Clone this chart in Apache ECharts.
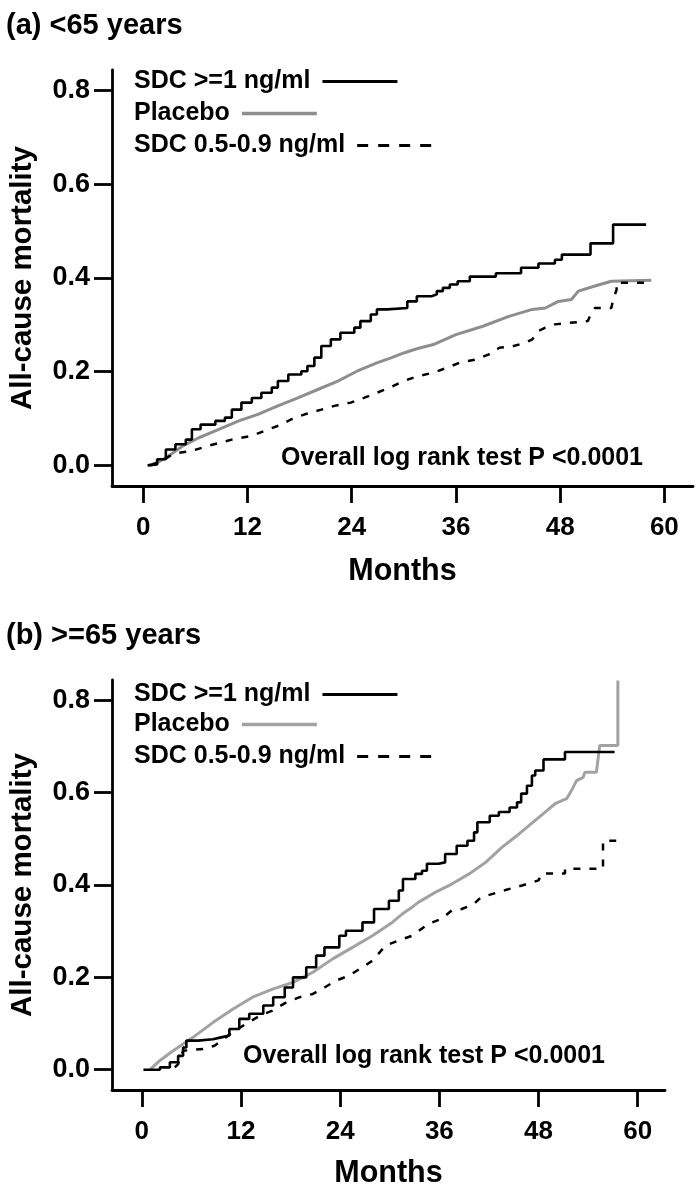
<!DOCTYPE html>
<html>
<head>
<meta charset="utf-8">
<script src="https://cdn.jsdelivr.net/npm/echarts@6/dist/echarts.min.js"></script>
<style>html,body{margin:0;padding:0;background:#fff}#c{width:700px;height:1194px}</style>
</head>
<body>
<div id="c"></div>
<script>
const seriesNames = ['SDC >=1 ng/ml', 'Placebo', 'SDC 0.5-0.9 ng/ml'];
const panelTitles = ['(a) <65 years', '(b) >=65 years'];
const testLabel = 'Overall log rank test P <0.0001';
const xAxisName = 'Months';
const yAxisName = 'All-cause mortality';
const xTickValues = [0, 12, 24, 36, 48, 60];
const yTickValues = [0, 0.2, 0.4, 0.6, 0.8];

// Panel (a) <65 years
const aHighMonths = [0.5, 0.7, 1.6, 2.6, 3.7, 4.9, 5.6, 6.6, 8.3, 9.4, 10.2, 11.3, 12.5, 13.6, 14.8, 15.5, 16.7, 18.2, 18.9, 19.7, 20.5, 21.6, 22.7, 24.3, 25.0, 26.2, 26.9, 28.1, 30.4, 31.5, 33.2, 33.8, 34.5, 35.3, 36.2, 37.6, 40.6, 43.5, 45.5, 47.4, 48.2, 51.5, 54.1, 57.9];
const aHighValues = [0, 0.002, 0.013, 0.034, 0.045, 0.055, 0.077, 0.087, 0.095, 0.102, 0.119, 0.134, 0.144, 0.155, 0.166, 0.18, 0.194, 0.201, 0.212, 0.23, 0.255, 0.269, 0.283, 0.294, 0.308, 0.322, 0.333, 0.336, 0.35, 0.361, 0.365, 0.372, 0.379, 0.386, 0.393, 0.403, 0.41, 0.422, 0.431, 0.439, 0.45, 0.474, 0.514, 0.514];
const aPlaceboMonths = [0.6, 1.6, 2.6, 4.5, 6.4, 8.7, 11.0, 13.2, 15.5, 17.8, 20.1, 22.4, 24.6, 26.9, 28.6, 30.0, 31.5, 33.4, 36.0, 39.1, 42.1, 44.8, 46.3, 47.8, 49.3, 50.1, 52.0, 53.9, 58.5];
const aPlaceboValues = [0, 0.006, 0.016, 0.041, 0.059, 0.077, 0.095, 0.109, 0.127, 0.144, 0.162, 0.18, 0.201, 0.219, 0.23, 0.24, 0.249, 0.258, 0.279, 0.297, 0.318, 0.333, 0.336, 0.35, 0.354, 0.372, 0.383, 0.393, 0.395];
const aLowMonths = [0.8, 2.0, 3.5, 5.6, 7.5, 10.2, 12.5, 14.4, 15.9, 17.0, 18.6, 20.5, 22.0, 23.9, 25.4, 26.9, 28.4, 30.0, 31.5, 33.4, 34.9, 36.4, 38.3, 39.8, 41.0, 42.5, 44.0, 44.8, 45.5, 46.3, 47.4, 49.0, 51.2, 51.6, 52.0, 53.9, 54.1, 54.5, 54.5, 57.7];
const aLowValues = [0, 0.008, 0.025, 0.031, 0.042, 0.055, 0.063, 0.077, 0.087, 0.098, 0.109, 0.119, 0.127, 0.134, 0.144, 0.155, 0.166, 0.18, 0.19, 0.198, 0.208, 0.219, 0.226, 0.237, 0.251, 0.254, 0.262, 0.269, 0.287, 0.294, 0.301, 0.304, 0.308, 0.326, 0.336, 0.336, 0.354, 0.375, 0.39, 0.39];

// Panel (b) >=65 years
const bHighMonths = [0.2, 2.2, 3.4, 4.4, 5.0, 5.4, 6.8, 8.6, 9.6, 10.6, 11.8, 13.0, 14.7, 15.9, 17.3, 18.3, 19.9, 21.1, 22.1, 23.9, 24.7, 26.7, 28.1, 29.9, 31.1, 31.6, 33.1, 33.9, 34.5, 35.9, 36.7, 38.1, 39.4, 40.2, 40.6, 42.1, 43.2, 44.5, 45.4, 45.9, 46.6, 47.2, 47.6, 48.6, 51.2, 57.2];
const bHighValues = [0, 0.005, 0.016, 0.03, 0.048, 0.063, 0.066, 0.07, 0.074, 0.088, 0.11, 0.121, 0.139, 0.157, 0.178, 0.2, 0.222, 0.247, 0.265, 0.29, 0.301, 0.319, 0.348, 0.366, 0.388, 0.413, 0.424, 0.431, 0.446, 0.449, 0.467, 0.485, 0.496, 0.514, 0.536, 0.55, 0.558, 0.568, 0.579, 0.598, 0.615, 0.637, 0.648, 0.672, 0.688, 0.688];
const bPlaceboMonths = [1.0, 2.2, 3.8, 6.2, 8.6, 11.0, 13.4, 15.9, 18.3, 20.7, 23.1, 25.5, 27.9, 30.3, 31.5, 32.7, 33.5, 35.5, 37.5, 39.6, 41.6, 43.6, 45.6, 47.6, 48.8, 50.0, 51.4, 52.0, 52.6, 53.4, 53.6, 55.0, 55.4, 57.6, 57.6];
const bPlaceboValues = [0, 0.02, 0.041, 0.07, 0.102, 0.131, 0.157, 0.175, 0.189, 0.211, 0.24, 0.265, 0.29, 0.319, 0.337, 0.352, 0.363, 0.384, 0.402, 0.424, 0.449, 0.482, 0.51, 0.54, 0.558, 0.576, 0.587, 0.605, 0.626, 0.633, 0.644, 0.644, 0.702, 0.702, 0.843];
const bLowMonths = [4.0, 4.4, 5.0, 7.4, 8.8, 11.0, 12.6, 14.3, 15.8, 17.5, 19.1, 20.7, 22.1, 23.5, 25.1, 26.7, 27.9, 29.5, 31.1, 32.7, 34.7, 36.3, 37.5, 38.7, 40.2, 41.0, 44.0, 46.0, 48.0, 48.4, 51.2, 51.2, 55.8, 55.8, 57.8];
const bLowValues = [0.005, 0.012, 0.041, 0.045, 0.052, 0.081, 0.099, 0.117, 0.128, 0.146, 0.157, 0.164, 0.178, 0.193, 0.204, 0.222, 0.236, 0.269, 0.28, 0.29, 0.316, 0.327, 0.345, 0.348, 0.359, 0.373, 0.389, 0.399, 0.41, 0.425, 0.425, 0.435, 0.435, 0.496, 0.496];

const FONT = '"Liberation Sans", Arial, Helvetica, sans-serif';
const zip = (xs, ys) => xs.map((x, i) => [x, ys[i]]);

const grayTop = '#8e8e8e';
const grayBottom = '#a2a2a2';

const grids = [
  { left: 109, top: 70, width: 584, height: 416, labelMargin: 29, nameGap: 70, legendTops: [69, 101, 133], gray: grayTop },
  { left: 109, top: 680, width: 556, height: 410, labelMargin: 29, nameGap: 68, legendTops: [682, 712, 744], gray: grayBottom }
];

const axisLineStyle = { color: '#000', width: 2.8 };

const xAxes = grids.map((g, i) => ({
  type: 'value', gridIndex: i, min: -3.6, max: 63.3,
  axisLine: { show: true, onZero: false, lineStyle: axisLineStyle },
  axisTick: { show: true, customValues: xTickValues, length: 17, lineStyle: axisLineStyle },
  axisLabel: { customValues: xTickValues, margin: g.labelMargin, fontSize: 26, fontWeight: 'bold', color: '#000', fontFamily: FONT },
  splitLine: { show: false },
  name: xAxisName, nameLocation: 'middle', nameGap: g.nameGap,
  nameTextStyle: { fontSize: 30.5, fontWeight: 'bold', color: '#000', fontFamily: FONT }
}));

const yAxes = grids.map((g, i) => ({
  type: 'value', gridIndex: i, min: -0.044, max: 0.844,
  axisLine: { show: true, onZero: false, lineStyle: axisLineStyle },
  axisTick: { show: true, customValues: yTickValues, length: 18, lineStyle: axisLineStyle },
  axisLabel: { customValues: yTickValues, margin: 22, fontSize: 27, fontWeight: 'bold', color: '#000', fontFamily: FONT, formatter: v => v.toFixed(1) },
  splitLine: { show: false },
  name: yAxisName, nameLocation: 'middle', nameGap: 74, nameRotate: 90,
  nameTextStyle: { fontSize: 29.5, fontWeight: 'bold', color: '#000', fontFamily: FONT }
}));

function km(name, idx, months, values, color, width, type, step) {
  return {
    type: 'line', name, xAxisIndex: idx, yAxisIndex: idx,
    data: zip(months, values), step: step ? 'end' : false,
    symbol: 'none', showSymbol: false, silent: true, animation: false,
    lineStyle: { color, width, type },
    itemStyle: { color }
  };
}

const series = [
  km(seriesNames[1], 0, aPlaceboMonths, aPlaceboValues, grayTop, 3, 'solid', false),
  km(seriesNames[2], 0, aLowMonths, aLowValues, '#000', 2.5, [7, 9], false),
  km(seriesNames[0], 0, aHighMonths, aHighValues, '#000', 2.6, 'solid', true),
  km(seriesNames[1], 1, bPlaceboMonths, bPlaceboValues, grayBottom, 3, 'solid', false),
  km(seriesNames[2], 1, bLowMonths, bLowValues, '#000', 2.5, [7, 9], false),
  km(seriesNames[0], 1, bHighMonths, bHighValues, '#000', 2.6, 'solid', true)
];

function legendItem(k, g) {
  const styles = [
    { color: '#000', width: 3, type: 'solid' },
    { color: g.gray, width: 3.5, type: 'solid' },
    { color: '#000', width: 3, type: [11, 10] }
  ];
  return {
    orient: 'vertical', align: 'right', left: 134, top: g.legendTops[k], padding: 0,
    itemWidth: 75, itemHeight: 26, selectedMode: false,
    data: [{ name: seriesNames[k], lineStyle: styles[k] }],
    itemStyle: { opacity: 0, borderWidth: 0 },
    textStyle: { fontSize: 25, fontWeight: 'bold', color: '#000', fontFamily: FONT, padding: [0, 7, 0, 0] }
  };
}
const legends = [];
grids.forEach(g => { for (let k = 0; k < 3; k++) legends.push(legendItem(k, g)); });

const titleStyle = { fontSize: 29, fontWeight: 'bold', color: '#000', fontFamily: FONT };
const noteStyle = { fontSize: 25, fontWeight: 'bold', color: '#000', fontFamily: FONT };

const option = {
  backgroundColor: '#fff',
  animation: false,
  title: [
    { text: panelTitles[0], left: 6, top: 11, padding: 0, textStyle: titleStyle },
    { text: panelTitles[1], left: 6, top: 621, padding: 0, textStyle: titleStyle },
    { text: testLabel, left: 281, top: 446, padding: 0, textStyle: noteStyle },
    { text: testLabel, left: 243, top: 1044, padding: 0, textStyle: noteStyle }
  ],
  legend: legends,
  grid: grids.map(g => ({ left: g.left, top: g.top, width: g.width, height: g.height })),
  xAxis: xAxes,
  yAxis: yAxes,
  series
};

const chart = echarts.init(document.getElementById('c'), null, { renderer: 'canvas' });
chart.setOption(option);
</script>
</body>
</html>
